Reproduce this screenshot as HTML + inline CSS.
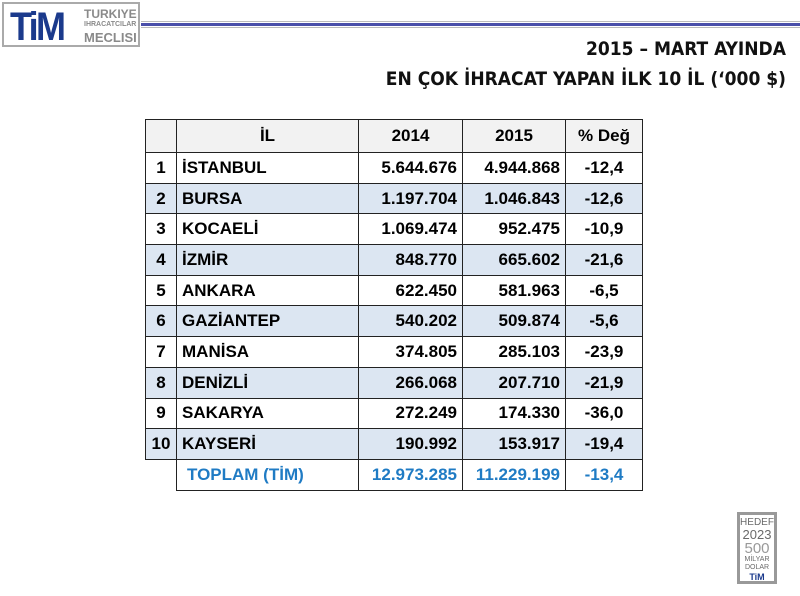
<!DOCTYPE html>
<html><head><meta charset="utf-8"><style>
body{margin:0;width:800px;height:596px;background:#fff;position:relative;overflow:hidden;font-family:"Liberation Sans",Arial,sans-serif}
.logo{position:absolute;left:2px;top:2px;width:138px;height:45px;border:2px solid #aaa;box-sizing:border-box;background:#fff}
.tim{position:absolute;left:6px;top:3px;font:bold 40px/40px "Liberation Sans",sans-serif;color:#1b3a8c;letter-spacing:-3px;transform:scaleX(0.9);transform-origin:left}
.lt{position:absolute;left:80px;font-weight:bold;color:#8a8a8a}
.line1{position:absolute;left:141px;top:23px;width:659px;height:3px;background:#4a4faa}
.line0{position:absolute;left:141px;top:21px;width:659px;height:1px;background:#bbb}
.line2{position:absolute;left:141px;top:27px;width:659px;height:1px;background:#bbb}
.title{position:absolute;right:14px;text-align:right;font-weight:bold;font-size:19px;color:#111;font-family:"DejaVu Sans Condensed","Liberation Sans Narrow","Liberation Sans",sans-serif}
table{position:absolute;left:145px;top:119px;border-collapse:collapse;font-weight:bold;font-size:17px}
td{border:1.5px solid #222;height:30.7px;padding:0 5px;box-sizing:border-box}
td.n{text-align:center;width:31px;padding:0}
td.c{width:182px}
td.r{text-align:right;width:104px}
td.r2{text-align:right;width:103px}
td.p{text-align:center;width:77px}
tr.h td{background:#f2f2f2;text-align:center;height:33px}
tr.b td{background:#dce6f2}
tr.t td{color:#1f7bc4;background:#fff}
tr.t td.e{border:none;border-top:1.5px solid #222}
.hedef{position:absolute;left:737px;top:512px;width:40px;height:72px;border:3px solid #999;border-bottom-width:3px;text-align:center;color:#6a6a6a;font-size:10px;line-height:10px;box-sizing:border-box}
</style></head><body>
<div class="logo"><div class="tim">TiM</div>
<div class="lt" style="top:3px;font-size:12px">TURKIYE</div>
<div class="lt" style="top:17px;font-size:7px">IHRACATCILAR</div>
<div class="lt" style="top:26px;font-size:13px">MECLISI</div></div>
<div class="line0"></div><div class="line1"></div><div class="line2"></div>
<div class="title" style="top:38px">2015 – MART AYINDA</div>
<div class="title" style="top:68px">EN ÇOK İHRACAT YAPAN İLK 10 İL (‘000 $)</div>
<table>
<tr class="h"><td class="n"></td><td class="c" style="text-align:center">İL</td><td class="r" style="text-align:center">2014</td><td class="r2" style="text-align:center">2015</td><td class="p">% Değ</td></tr>
<tr><td class="n">1</td><td class="c">İSTANBUL</td><td class="r">5.644.676</td><td class="r2">4.944.868</td><td class="p">-12,4</td></tr>
<tr class="b"><td class="n">2</td><td class="c">BURSA</td><td class="r">1.197.704</td><td class="r2">1.046.843</td><td class="p">-12,6</td></tr>
<tr><td class="n">3</td><td class="c">KOCAELİ</td><td class="r">1.069.474</td><td class="r2">952.475</td><td class="p">-10,9</td></tr>
<tr class="b"><td class="n">4</td><td class="c">İZMİR</td><td class="r">848.770</td><td class="r2">665.602</td><td class="p">-21,6</td></tr>
<tr><td class="n">5</td><td class="c">ANKARA</td><td class="r">622.450</td><td class="r2">581.963</td><td class="p">-6,5</td></tr>
<tr class="b"><td class="n">6</td><td class="c">GAZİANTEP</td><td class="r">540.202</td><td class="r2">509.874</td><td class="p">-5,6</td></tr>
<tr><td class="n">7</td><td class="c">MANİSA</td><td class="r">374.805</td><td class="r2">285.103</td><td class="p">-23,9</td></tr>
<tr class="b"><td class="n">8</td><td class="c">DENİZLİ</td><td class="r">266.068</td><td class="r2">207.710</td><td class="p">-21,9</td></tr>
<tr><td class="n">9</td><td class="c">SAKARYA</td><td class="r">272.249</td><td class="r2">174.330</td><td class="p">-36,0</td></tr>
<tr class="b"><td class="n">10</td><td class="c">KAYSERİ</td><td class="r">190.992</td><td class="r2">153.917</td><td class="p">-19,4</td></tr>
<tr class="t"><td class="n e"></td><td class="c" style="padding-left:10px">TOPLAM (TİM)</td><td class="r">12.973.285</td><td class="r2">11.229.199</td><td class="p">-13,4</td></tr>
</table>
<div class="hedef"><div style="margin-top:3px">HEDEF</div><div style="font-size:13px;line-height:13px">2023</div><div style="font-size:15px;line-height:15px;color:#999">500</div><div style="font-size:7px;line-height:8px">MİLYAR<br>DOLAR</div><div style="color:#1b3a8c;font-weight:bold;font-size:9px">TiM</div></div>
</body></html>
